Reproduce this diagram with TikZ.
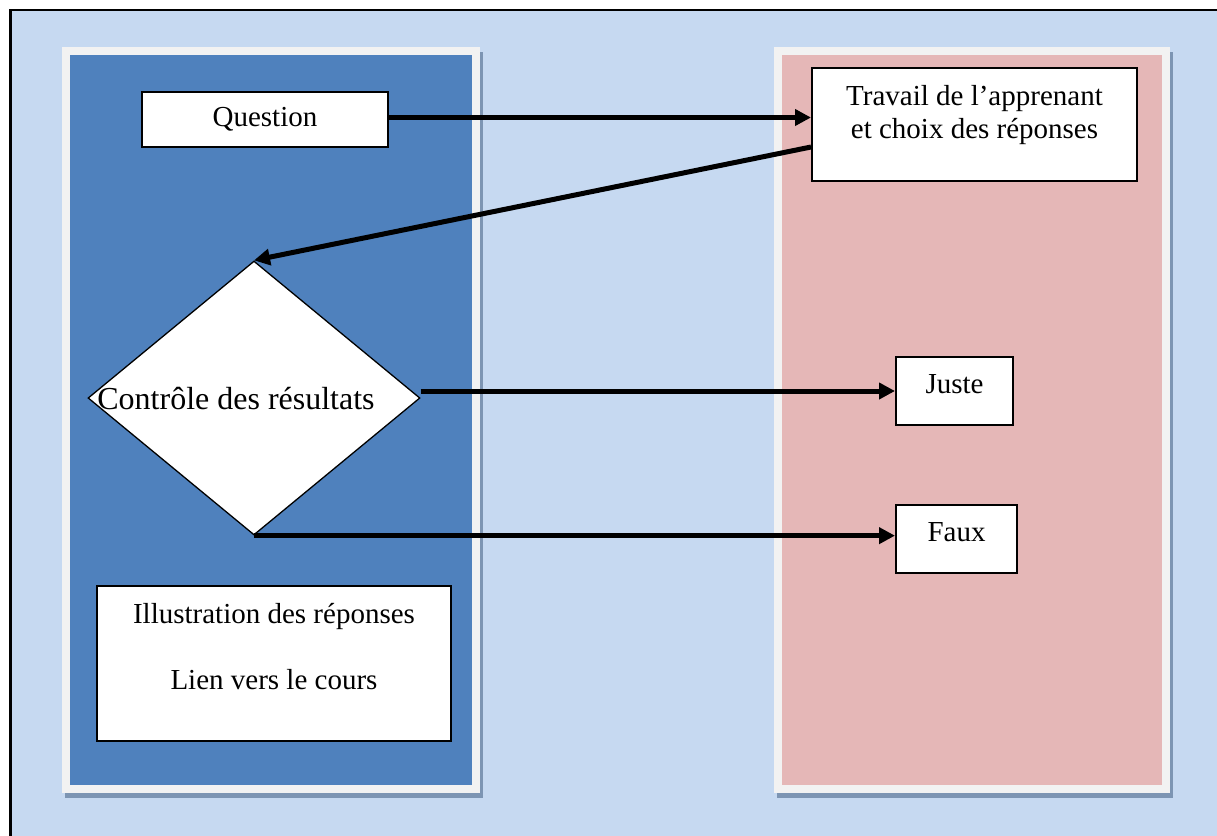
\documentclass[tikz,border=0pt]{standalone}
\usepackage{fontspec}
\setmainfont{Liberation Serif}
\usepackage{xcolor}
\usetikzlibrary{shapes.geometric, arrows.meta, positioning, calc}

\definecolor{fondbleu}{HTML}{C6D9F1}
\definecolor{bleuprof}{HTML}{4F81BD}
\definecolor{roseeleve}{HTML}{E5B7B7}
\definecolor{cadre}{HTML}{F2F2F2}
\definecolor{ombre}{HTML}{7D95B3}

\tikzset{
  boite/.style={draw, line width=1pt, fill=white, inner sep=0, font=\fontsize{14.5}{16.7}\selectfont},
  texte/.style={anchor=north, yshift=-9pt, inner sep=0, align=center, font=\fontsize{14.5}{16.7}\selectfont},
  fleche/.style={-{Triangle[length=8pt,width=8pt]}, line width=2.5pt}
}

\begin{document}
\begin{tikzpicture}[x=0.5pt, y=-0.5pt]
\useasboundingbox (0,0) rectangle (1217,836);
\clip (0,0) rectangle (1217,836);
\fill[fondbleu] (10,10) rectangle (1240,860);
\draw[line width=1.3pt] (10.5,860) -- (10.5,10) -- (1240,10);

% colonnes
\fill[ombre] (65,52) rectangle (483,798);
\fill[cadre] (62,47) rectangle (480,793);
\fill[bleuprof] (70,55) rectangle (472,785);

\fill[ombre] (777,52) rectangle (1173,798);
\fill[cadre] (774,47) rectangle (1170,793);
\fill[roseeleve] (782,55) rectangle (1162,785);

\node[boite, minimum width=123pt, minimum height=27.5pt,
  label={[texte, yshift=1pt]north:Question}] (question) at (265,119.5) {};
\node[boite, minimum width=162.5pt, minimum height=56.5pt,
  label={[texte]north:Travail de l’apprenant\\et choix des réponses}] (travail) at (974.5,124.5) {};

\node[draw, diamond, fill=white, line width=0.65pt, inner sep=0, minimum width=166pt, minimum height=137pt,
  label={[anchor=center, xshift=-9pt, yshift=-0.5pt, font=\fontsize{16}{19}\selectfont]center:Contrôle des résultats}] (controle) at (254,398) {};

\node[boite, minimum width=58.5pt, minimum height=34pt, label={[texte]north:Juste}] (juste) at (954.5,391) {};
\node[boite, minimum width=60.5pt, minimum height=34pt, label={[texte]north:Faux}] (faux) at (956.5,539) {};

\node[boite, minimum width=177pt, minimum height=77.5pt,
  label={[texte]north:Illustration des réponses\\[16.3pt]Lien vers le cours}] (illustration) at (274,663.5) {};

\coordinate (qdep) at ($(question.east)+(0,-2)$);
\coordinate (tdep) at ($(travail.west)+(0,22.5)$);
\draw[fleche] (qdep) -- (qdep -| travail.west);
\draw[fleche] (tdep) -- (controle.north);
\draw[fleche] (controle.east |- juste.west) -- (juste.west);
\draw[fleche] (controle.south) -- (controle.south -| faux.west);
\end{tikzpicture}
\end{document}
